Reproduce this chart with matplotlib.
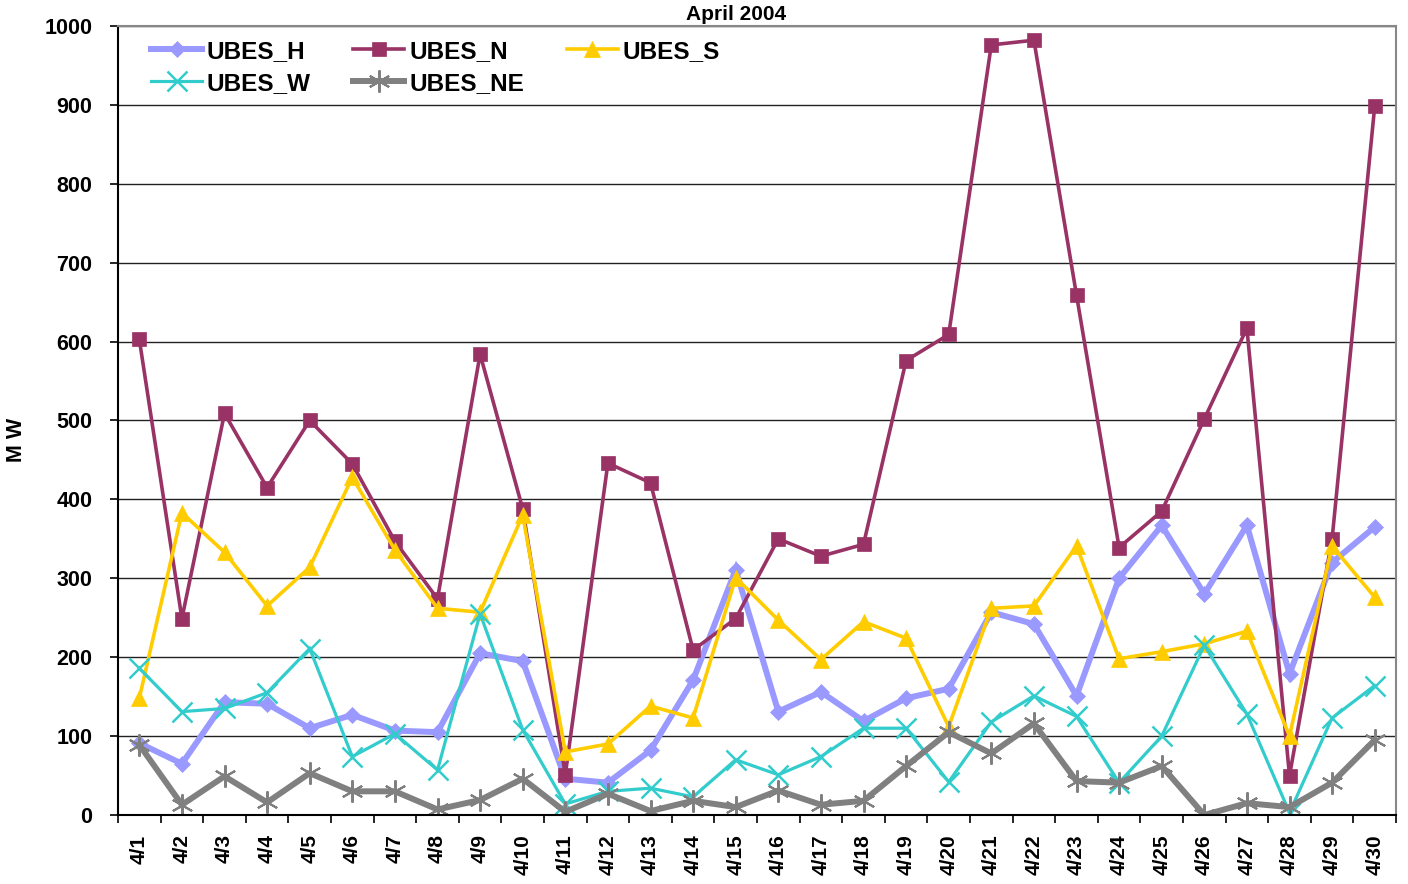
import matplotlib
matplotlib.use("Agg")
import matplotlib.pyplot as plt
import numpy as np

days = [f"4/{d}" for d in range(1, 31)]

ubes_h = [91, 65, 143, 141, 110, 127, 107, 105, 205, 195,
          46, 41, 82, 171, 311, 131, 156, 119, 148, 160,
          257, 242, 151, 300, 367, 280, 367, 179, 320, 365]
ubes_n = [603, 249, 509, 415, 500, 445, 347, 274, 584, 388,
          51, 446, 421, 209, 249, 350, 328, 343, 576, 609,
          976, 982, 659, 339, 385, 502, 617, 50, 350, 898]
ubes_s = [148, 383, 333, 265, 314, 428, 336, 262, 257, 380,
          80, 90, 138, 123, 301, 247, 197, 245, 224, 112,
          262, 265, 341, 198, 207, 217, 233, 100, 341, 276]
ubes_w = [186, 131, 135, 155, 211, 74, 103, 57, 255, 108,
          14, 30, 34, 23, 70, 51, 74, 110, 110, 42,
          118, 151, 125, 41, 100, 215, 128, 3, 123, 164]
ubes_ne = [89, 13, 49, 16, 53, 30, 30, 7, 19, 46,
           4, 27, 5, 18, 10, 31, 13, 18, 62, 105,
           78, 116, 43, 41, 62, 0, 15, 10, 41, 95]

plt.rcParams['font.family'] = ['Liberation Sans', 'DejaVu Sans']
plt.rcParams['font.weight'] = 'bold'

fig = plt.figure(figsize=(14.08, 8.84), dpi=100)
ax = fig.add_axes([118/1408, 69/884, (1396-118)/1408, (815-26)/884])

x = np.arange(len(days))
series = [
    ("UBES_H", ubes_h, "#9999FF", 4.3, "D", 8.5, 0.5),
    ("UBES_N", ubes_n, "#993366", 2.6, "s", 10, 0.5),
    ("UBES_S", ubes_s, "#FFCC00", 2.6, "^", 12, 0.5),
    ("UBES_W", ubes_w, "#33CCCC", 2.3, "x", 15, 1.8),
    ("UBES_NE", ubes_ne, "#808080", 4.3, (6, 2, 0), 16, 1.5),
]
handles = {}
for name, vals, col, lw, mk, ms, mew in series:
    h, = ax.plot(x, vals, color=col, lw=lw, marker=mk, markersize=ms,
                 markerfacecolor=col, markeredgecolor=col, markeredgewidth=mew,
                 label=name, solid_joinstyle='miter')
    handles[name] = h

ax.set_xlim(-0.5, len(days) - 0.5)
ax.set_ylim(0, 1000)
ax.set_yticks(np.arange(0, 1001, 100))
ax.yaxis.grid(True, color='#222222', lw=1.0)
ax.set_axisbelow(True)
ax.set_xticks(x)
ax.set_xticklabels(days, rotation=90, fontsize=15, fontweight='bold')
ax.set_xticks(np.arange(-0.5, len(days), 1.0), minor=True)
ax.tick_params(axis='x', which='major', length=0, pad=14)
ax.tick_params(axis='x', which='minor', length=5.5, width=1.2, direction='out', color='black')
ax.tick_params(axis='y', length=5.5, width=1.2, direction='out', labelsize=15.5, pad=13)
for lab in ax.get_yticklabels():
    lab.set_fontweight('bold')

ax.spines['left'].set_color('black')
ax.spines['left'].set_linewidth(1.5)
ax.spines['bottom'].set_color('black')
ax.spines['bottom'].set_linewidth(1.5)
ax.spines['top'].set_color('#888888')
ax.spines['top'].set_linewidth(1.5)
ax.spines['right'].set_color('#888888')
ax.spines['right'].set_linewidth(1.5)

order = ["UBES_H", "UBES_W", "UBES_N", "UBES_NE", "UBES_S"]
leg = ax.legend([handles[n] for n in order], order, ncol=3, loc='upper left',
                bbox_to_anchor=(33/1278, 1 - 14/789), frameon=False,
                prop={'weight': 'bold', 'size': 17.5},
                handlelength=2.1, handletextpad=0.2, columnspacing=1.75,
                labelspacing=0.37, borderaxespad=0.0, borderpad=0.0)

fig.text(736.5/1408, 1 - 14/884, "April 2004", ha='center', va='center',
         fontsize=15, fontweight='bold')
fig.text(16.5/1408, 1 - 439.5/884, "M W", ha='center', va='center', rotation=90,
         fontsize=15.5, fontweight='bold')

fig.savefig("out.png", dpi=100)
